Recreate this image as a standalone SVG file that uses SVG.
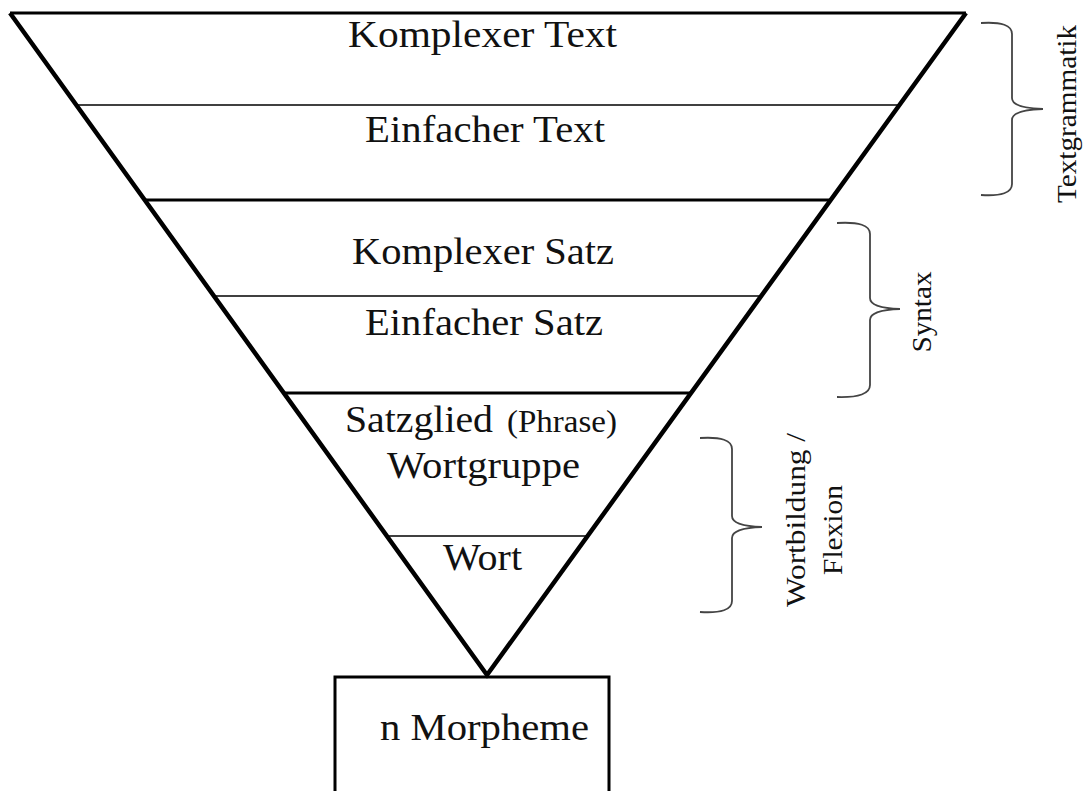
<svg xmlns="http://www.w3.org/2000/svg" width="1087" height="791" viewBox="0 0 1087 791">
<style>
.t{font-family:"Liberation Serif","Times New Roman",serif;font-size:37px;fill:#111;text-anchor:middle}
.s{font-family:"Liberation Serif","Times New Roman",serif;font-size:27px;fill:#111;text-anchor:middle}
.thin{stroke:#000;stroke-width:1.6;fill:none}
.thick{stroke:#000;stroke-width:3;fill:none}
.brace{stroke:#444;stroke-width:1.8;fill:none}
</style>
<rect width="1087" height="791" fill="#fff"/>
<g id="funnel">
<path d="M10,13 L966,13" class="thick"/>
<path d="M10,13 L487,675 L966,13" stroke="#000" stroke-width="4.5" fill="none" stroke-linejoin="miter"/>
</g>
<g id="connectors">
<line x1="76" y1="105" x2="899" y2="105" class="thin"/>
<line x1="145" y1="200" x2="831" y2="200" class="thick"/>
<line x1="214" y1="296" x2="761" y2="296" class="thin"/>
<line x1="284" y1="393" x2="691" y2="393" class="thick"/>
<line x1="387" y1="536" x2="588" y2="536" class="thin"/>
</g>
<g id="komplexer-text"><text class="t" x="482.5" y="47" textLength="269" lengthAdjust="spacingAndGlyphs">Komplexer Text</text></g>
<g id="einfacher-text"><text class="t" x="485" y="142" textLength="240" lengthAdjust="spacingAndGlyphs">Einfacher Text</text></g>
<g id="komplexer-satz"><text class="t" x="483" y="264" textLength="262" lengthAdjust="spacingAndGlyphs">Komplexer Satz</text></g>
<g id="einfacher-satz"><text class="t" x="484" y="335" textLength="238" lengthAdjust="spacingAndGlyphs">Einfacher Satz</text></g>
<g id="satzglied">
<text class="t" x="419" y="432" textLength="148" lengthAdjust="spacingAndGlyphs">Satzglied</text>
<text class="t" x="562" y="432" style="font-size:31px" textLength="110" lengthAdjust="spacingAndGlyphs">(Phrase)</text>
<text class="t" x="483.5" y="478" textLength="193" lengthAdjust="spacingAndGlyphs">Wortgruppe</text>
</g>
<g id="wort"><text class="t" x="482.5" y="570" textLength="79" lengthAdjust="spacingAndGlyphs">Wort</text></g>
<g id="morpheme">
<path d="M335,800 L335,677 L609,677 L609,800" stroke="#000" stroke-width="3" fill="none"/>
<text class="t" x="484.5" y="740" textLength="209" lengthAdjust="spacingAndGlyphs">n Morpheme</text>
</g>
<g id="brace-textgrammatik">
<path class="brace" d="M981,23 Q1012,21 1012,34 L1012,98 Q1012,108 1043,109 Q1012,110 1012,120 L1012,184 Q1012,197 981,195"/>
<text class="s" transform="translate(1076,114) rotate(-90)" textLength="178" lengthAdjust="spacingAndGlyphs">Textgrammatik</text>
</g>
<g id="brace-syntax">
<path class="brace" d="M837,223 Q870,221 870,234 L870,298 Q870,308 900,309 Q870,310 870,320 L870,385 Q870,398 837,397"/>
<text class="s" transform="translate(931,312) rotate(-90)" textLength="81" lengthAdjust="spacingAndGlyphs">Syntax</text>
</g>
<g id="brace-wortbildung">
<path class="brace" d="M700,438 Q732,436 732,449 L732,516 Q732,526 762,527 Q732,528 732,538 L732,601 Q732,614 700,612"/>
<text class="s" transform="translate(805,520) rotate(-90)" textLength="174" lengthAdjust="spacingAndGlyphs">Wortbildung /</text>
<text class="s" transform="translate(842,530) rotate(-90)" textLength="90" lengthAdjust="spacingAndGlyphs">Flexion</text>
</g>
</svg>
